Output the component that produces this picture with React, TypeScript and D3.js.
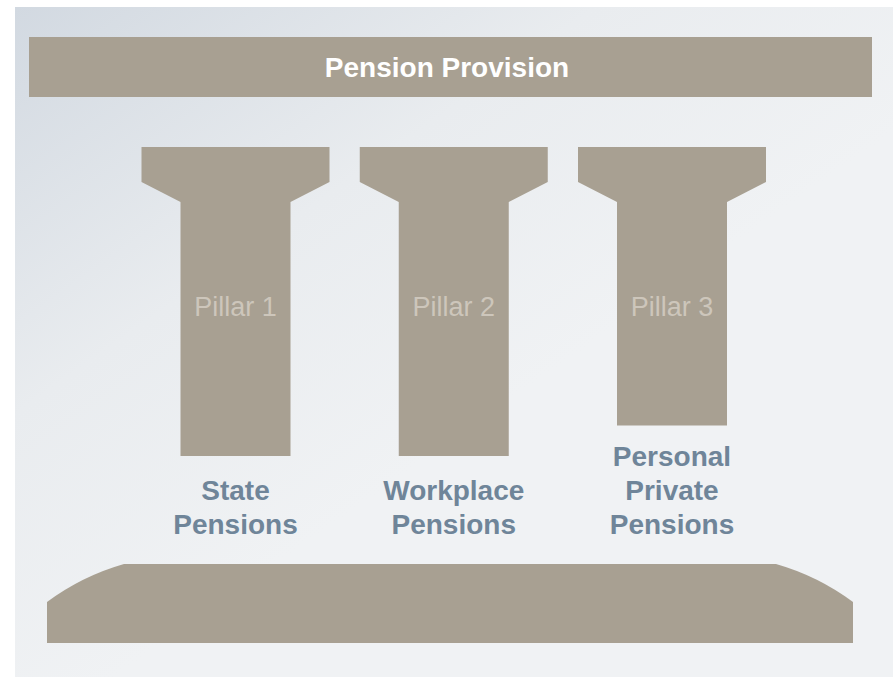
import * as d3 from "d3";

const width = 893;
const height = 677;

const title = "Pension Provision";
const pillarNames = ["Pillar 1", "Pillar 2", "Pillar 3"];
const pillarLabels = [
  ["State", "Pensions"],
  ["Workplace", "Pensions"],
  ["Personal", "Private", "Pensions"],
];
// shaft length of each pillar (arbitrary units, pillar 3 is shorter)
const pillarDepth = [10, 10, 8.8];

const tan = "#a8a092";
const labelColor = "#6f8599";
const pillarTextColor = "#cdc6bb";
const font = "'Liberation Sans', Arial, sans-serif";

const capTop = 147;
const capSide = 182;
const shaftTop = 202;
const capWidth = 188;
const shaftWidth = 110;

export default function App() {
  const x = d3.scalePoint<string>().domain(pillarNames).range([235.5, 672]);
  const y = d3.scaleLinear().domain([0, 10]).range([shaftTop, 456]);

  const pillarPath = (name: string, depth: number) => {
    const cx = x(name) as number;
    const p = d3.path();
    p.moveTo(cx - capWidth / 2, capTop);
    p.lineTo(cx + capWidth / 2, capTop);
    p.lineTo(cx + capWidth / 2, capSide);
    p.lineTo(cx + shaftWidth / 2, shaftTop);
    p.lineTo(cx + shaftWidth / 2, y(depth));
    p.lineTo(cx - shaftWidth / 2, y(depth));
    p.lineTo(cx - shaftWidth / 2, shaftTop);
    p.lineTo(cx - capWidth / 2, capSide);
    p.closePath();
    return p.toString();
  };

  // the foundation slab
  const base = d3.path();
  base.moveTo(124, 564);
  base.lineTo(776, 564);
  base.quadraticCurveTo(818, 576, 853, 602);
  base.lineTo(853, 643);
  base.lineTo(47, 643);
  base.lineTo(47, 602);
  base.quadraticCurveTo(82, 576, 124, 564);
  base.closePath();

  return (
    <svg
      width={width}
      height={height}
      style={{ position: "absolute", left: 0, top: 0 }}
    >
      <defs>
        <linearGradient id="bg" x1="0" y1="0" x2="0.55" y2="0.6">
          <stop offset="0" stopColor="#d2d9e1" />
          <stop offset="0.55" stopColor="#e9ecef" />
          <stop offset="1" stopColor="#f0f2f4" />
        </linearGradient>
      </defs>
      <rect x={15} y={7} width={width - 15} height={height - 7} fill="url(#bg)" />

      <rect x={29} y={37} width={843} height={60} fill={tan} />
      <text
        x={447}
        y={77}
        textAnchor="middle"
        fontFamily={font}
        fontWeight="bold"
        fontSize={28}
        fill="#ffffff"
      >
        {title}
      </text>

      {pillarNames.map((name, i) => (
        <g key={name}>
          <path d={pillarPath(name, pillarDepth[i])} fill={tan} />
          <text
            x={x(name)}
            y={316}
            textAnchor="middle"
            fontFamily={font}
            fontSize={27}
            fill={pillarTextColor}
          >
            {name}
          </text>
          {pillarLabels[i].map((line, j) => (
            <text
              key={j}
              x={x(name)}
              y={534 - (pillarLabels[i].length - 1 - j) * 34}
              textAnchor="middle"
              fontFamily={font}
              fontWeight="bold"
              fontSize={28}
              fill={labelColor}
            >
              {line}
            </text>
          ))}
        </g>
      ))}

      <path d={base.toString()} fill={tan} />
    </svg>
  );
}
